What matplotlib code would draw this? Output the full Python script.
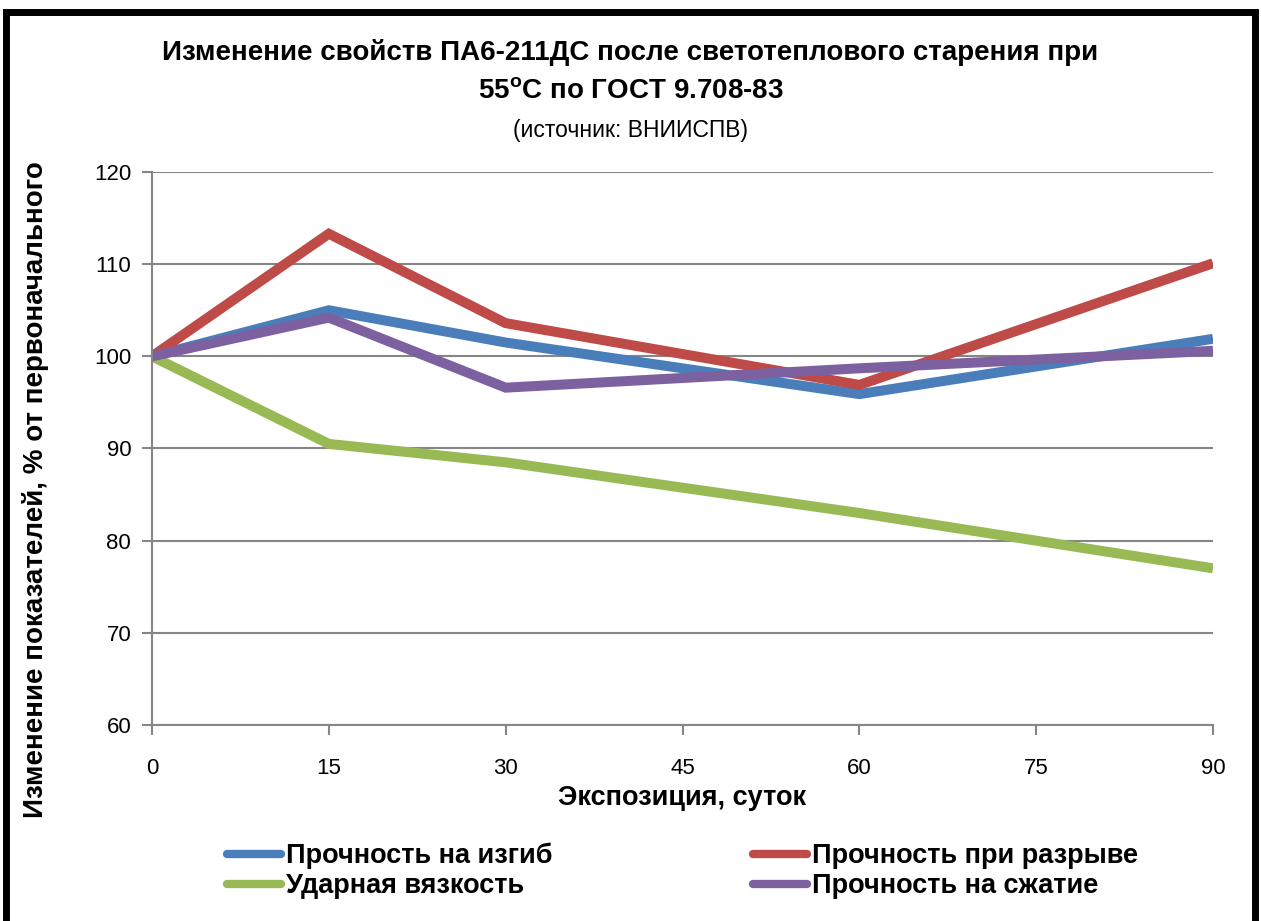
import matplotlib
matplotlib.use("Agg")
import matplotlib.pyplot as plt
from matplotlib.patches import Rectangle

plt.rcParams['font.family'] = ['Liberation Sans', 'DejaVu Sans']
plt.rcParams['mathtext.fontset'] = 'custom'
plt.rcParams['mathtext.bf'] = 'Liberation Sans:bold'
plt.rcParams['mathtext.rm'] = 'Liberation Sans'

days = [0, 15, 30, 60, 90]
bend = [100, 105.0, 101.5, 95.9, 101.9]
tensile = [100, 113.3, 103.6, 96.9, 110.1]
impact = [100, 90.5, 88.5, 83.0, 77.0]
compress = [100, 104.2, 96.6, 98.7, 100.6]

names = ['Прочность на изгиб', 'Прочность при разрыве',
         'Ударная вязкость', 'Прочность на сжатие']
colors = ['#4A7EBB', '#BE4B48', '#98B954', '#7D60A0']

fig = plt.figure(figsize=(12.61, 9.21), dpi=100)
ax = fig.add_axes([152 / 1261, 1 - 725 / 921, (1213 - 152) / 1261, (725 - 172) / 921])

# chart frame
fig.patches.append(Rectangle((6 / 1261, -0.02), 1249 / 1261, 1 - 12 / 921 + 0.02,
                             transform=fig.transFigure, fill=False,
                             edgecolor='black', linewidth=5))

series = [bend, tensile, impact, compress]
lines = []
for vals, name, c in zip(series, names, colors):
    ln, = ax.plot(days, vals, color=c, linewidth=7.2, label=name,
                  solid_joinstyle='miter', solid_capstyle='butt')
    lines.append(ln)

ax.set_xlim(0, 90)
ax.set_ylim(60, 120)
ax.set_xticks(range(0, 91, 15))
ax.set_yticks(range(60, 121, 10))
ax.yaxis.grid(True, color='#868686', linewidth=1.5)
ax.set_axisbelow(True)
for s in ['top', 'right']:
    ax.spines[s].set_visible(False)
for s in ['left', 'bottom']:
    ax.spines[s].set_color('#868686')
    ax.spines[s].set_linewidth(1.5)
ax.tick_params(axis='both', colors='#868686', length=7, width=1.5, labelsize=16,
               labelcolor='black')
ax.tick_params(axis='x', pad=17)
ax.tick_params(axis='y', pad=8)

ax.set_xlabel('Экспозиция, суток', fontsize=19.5, fontweight='bold', labelpad=4)
ax.set_ylabel('Изменение показателей, % от первоначального', fontsize=20,
              fontweight='bold')
ax.yaxis.set_label_coords(-0.097, 0.425)

fig.text(0.5, 1 - 52 / 921, 'Изменение свойств ПА6-211ДС после светотеплового старения при',
         ha='center', va='center', fontsize=20, fontweight='bold')
fig.text(0.5, 1 - 92 / 921, r'55$^{\mathbf{o}}$C по ГОСТ 9.708-83',
         ha='center', va='center', fontsize=20, fontweight='bold')
fig.text(0.5, 1 - 130 / 921, '(источник: ВНИИСПВ)', ha='center', va='center', fontsize=16.5)

order = [0, 2, 1, 3]
leg = fig.legend([lines[i] for i in order], [names[i] for i in order], ncol=2,
                 loc='center', bbox_to_anchor=(0.541, 1 - 871 / 921), frameon=False,
                 prop={'weight': 'bold', 'size': 19.5}, handlelength=2.0,
                 handletextpad=0.18, columnspacing=7.4, labelspacing=0.15)
for h in leg.get_lines():
    h.set_solid_capstyle('round')
    h.set_linewidth(6)

fig.savefig('out.png', dpi=100)
